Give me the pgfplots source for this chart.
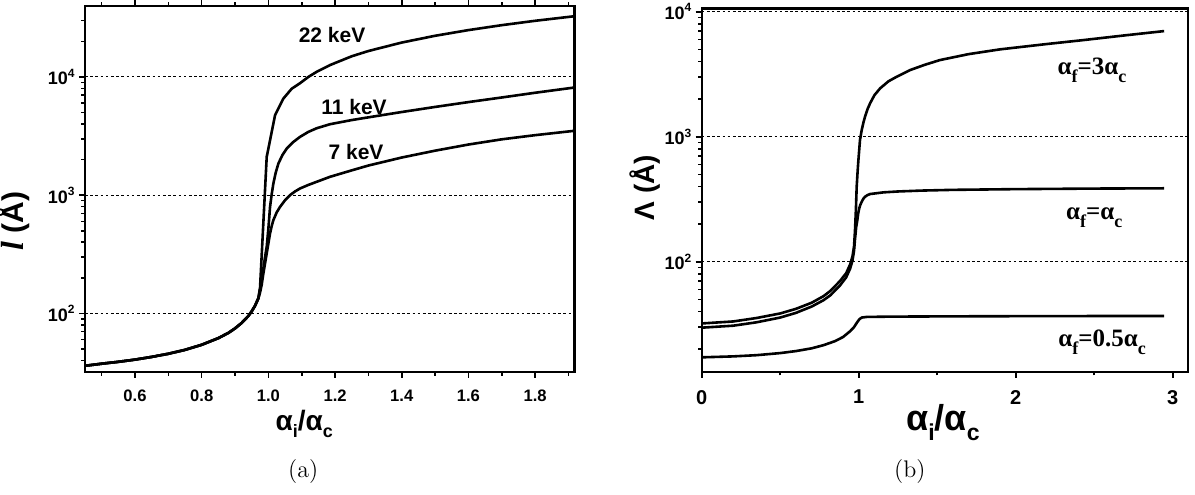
\documentclass[border=0pt]{standalone}
\usepackage{fontspec}
\usepackage{graphicx}
\usepackage{pgfplots}
\pgfplotsset{compat=1.18}
\newfontfamily\arial{Liberation Sans}
\newfontfamily\tnr{Liberation Serif}
\newcommand\sbs[1]{\raisebox{-0.28em}{\scalebox{0.64}{#1}}}
\newcommand\sbt[1]{\raisebox{-0.32em}{\scalebox{0.72}{#1}}}

\pgfplotstableread{
t v
0.45 36.0
0.50 37.5
0.55 38.9
0.60 40.6
0.65 42.8
0.70 45.5
0.75 49.1
0.80 54.2
0.85 61.7
0.88 68.3
0.90 74.6
0.92 83
0.94 95
0.95 104
0.96 116
0.97 134
0.975 165
0.995 2110
1.02 4740
1.045 6560
1.07 7950
1.095 8850
1.12 10000
1.145 11050
1.185 12600
1.25 14950
1.30 16560
1.40 19530
1.50 22280
1.60 24890
1.70 27400
1.80 29830
1.9175 32600
}\kevA

\pgfplotstableread{
t v
0.45 36.0
0.50 37.5
0.55 38.9
0.60 40.6
0.65 42.8
0.70 45.5
0.75 49.1
0.80 54.2
0.85 61.7
0.88 68.3
0.90 74.6
0.92 83
0.94 95
0.95 104
0.96 116
0.97 134
0.975 160
0.98 195
0.985 240
0.99 300
0.995 366
1.000 520
1.005 796
1.010 1020
1.015 1256
1.022 1550
1.030 1850
1.042 2180
1.055 2476
1.075 2818
1.095 3112
1.12 3428
1.145 3681
1.185 3981
1.25 4315
1.30 4550
1.40 5047
1.50 5572
1.60 6124
1.70 6699
1.80 7345
1.9175 8130
}\kevB

\pgfplotstableread{
t v
0.45 36.0
0.50 37.5
0.55 38.9
0.60 40.6
0.65 42.8
0.70 45.5
0.75 49.1
0.80 54.2
0.85 61.7
0.88 68.3
0.90 74.6
0.92 83
0.94 95
0.95 104
0.96 116
0.97 134
0.975 150
0.98 175
0.985 218
0.99 265
0.995 321
1.000 390
1.005 474
1.010 548
1.015 615
1.025 715
1.035 796
1.050 905
1.065 1000
1.080 1075
1.095 1138
1.12 1220
1.145 1297
1.185 1429
1.25 1620
1.30 1780
1.40 2080
1.50 2377
1.60 2679
1.70 2965
1.80 3215
1.9175 3500
}\kevC

\pgfplotstableread{
x v
0 32.1
0.2 33.3
0.35 35.5
0.5 38.6
0.6 42.0
0.7 47.0
0.775 53
0.82 58.5
0.88 70
0.92 81
0.945 95
0.96 110
0.97 132
0.976 175
0.982 260
0.987 398
0.993 530
0.998 651
1.008 940
1.019 1130
1.03 1300
1.04 1445
1.055 1650
1.072 1848
1.1 2150
1.136 2437
1.19 2780
1.242 3020
1.327 3415
1.42 3760
1.517 4105
1.7 4580
1.9 5000
2.2 5520
2.43 5930
2.7 6480
2.945 7000
}\afA

\pgfplotstableread{
x v
0 29.7
0.2 30.8
0.35 32.8
0.5 35.8
0.6 39.0
0.7 43.8
0.775 49.2
0.82 54
0.88 64.5
0.92 75
0.945 88
0.96 102
0.97 122
0.976 150
0.984 190
0.991 215
0.997 245
1.003 267
1.01 285
1.019 302
1.03 320
1.04 331
1.055 341
1.072 348
1.157 359
1.25 365
1.4 371
1.6 376
2.0 381
2.5 385
2.945 387
}\afB

\pgfplotstableread{
x v
0 17.2
0.2 17.5
0.35 17.9
0.5 18.6
0.6 19.3
0.7 20.3
0.775 21.5
0.85 23.2
0.9 25.0
0.945 27.8
0.97 30.0
0.99 32.8
1.005 34.8
1.02 35.8
1.05 36.2
1.2 36.4
1.6 36.6
2.0 36.7
2.5 36.8
2.945 36.8
}\afC

\pgfplotsset{
  mycurve/.style={black, line width=1.3pt, line join=round, no marks},
}

\begin{document}
\begin{tikzpicture}
\useasboundingbox (0,0) rectangle (597.5pt,247pt);

% ---------------- (a) ----------------
\begin{axis}[
  scale only axis,
  clip mode=individual,
  ymode=log,
  axis line style={line width=1.2pt},
  tick style={black, line width=0.8pt},
  major tick length=3pt,
  minor tick length=1.8pt,
  tick align=outside,
  ymajorgrids,
  major grid style={line width=0.5pt, black, dash pattern=on 1.3pt off 1.3pt},
  ytick={100,1000,10000},
  yticklabels={10\textsuperscript{2},10\textsuperscript{3},10\textsuperscript{4}},
  ytick pos=left,
  yticklabel style={font=\arial\bfseries\fontsize{9}{10}\selectfont, inner sep=1.5pt},
  at={(42.5pt,61pt)}, anchor=south west,
  width=244.65pt, height=183pt,
  xmin=0.45, xmax=1.9175, ymin=31.9, ymax=39800,
  xtick={0.6,0.8,1.0,1.2,1.4,1.6,1.8},
  xticklabels={0.6,0.8,1.0,1.2,1.4,1.6,1.8},
  minor xtick={0.5,0.7,0.9,1.1,1.3,1.5,1.7,1.9},
  minor ytick={40,50,60,70,80,90,200,300,400,500,600,700,800,900,2000,3000,4000,5000,6000,7000,8000,9000,20000,30000},
  xtick pos=both,
  xticklabel pos=bottom,
  xticklabel style={font=\arial\bfseries\fontsize{8.3}{9}\selectfont, inner sep=2.5pt, yshift=-3.5pt},
]
\addplot[mycurve] table[x=t,y=v] {\kevA};
\addplot[mycurve] table[x=t,y=v] {\kevB};
\addplot[mycurve] table[x=t,y=v] {\kevC};
\node[font=\arial\bfseries\fontsize{10.5}{12}\selectfont] at (axis cs:1.191,22550) {22 keV};
\node[font=\arial\bfseries\fontsize{10.5}{12}\selectfont] at (axis cs:1.257,5545) {11 keV};
\node[font=\arial\bfseries\fontsize{10.5}{12}\selectfont] at (axis cs:1.263,2312) {7 keV};
\node[rotate=90] at (axis description cs:-0.146,0.413)
  {{\tnr\bfseries\itshape\fontsize{16}{16}\selectfont l}{\arial\bfseries\fontsize{15}{16}\selectfont\ (Å)}};
\node[font=\arial\bfseries\fontsize{14}{15}\selectfont] at (axis description cs:0.448,-0.142)
  {α\sbs{i}/α\sbs{c}};
\node[font=\fontsize{12}{14}\selectfont] at (axis description cs:0.446,-0.272) {(a)};
\end{axis}

% ---------------- (b) ----------------
\begin{axis}[
  scale only axis,
  clip mode=individual,
  ymode=log,
  axis line style={line width=1.2pt},
  tick style={black, line width=0.8pt},
  major tick length=3pt,
  minor tick length=1.8pt,
  tick align=outside,
  ymajorgrids,
  major grid style={line width=0.5pt, black, dash pattern=on 1.3pt off 1.3pt},
  ytick={100,1000,10000},
  yticklabels={10\textsuperscript{2},10\textsuperscript{3},10\textsuperscript{4}},
  ytick pos=left,
  yticklabel style={font=\arial\bfseries\fontsize{9}{10}\selectfont, inner sep=1.5pt},
  at={(350.85pt,61.15pt)}, anchor=south west,
  width=243.15pt, height=181.7pt,
  xmin=0, xmax=3.097, ymin=13.2, ymax=10650,
  xtick={0,1,2,3},
  xticklabels={0,1,2,3},
  minor xtick={0.5,1.5,2.5},
  minor ytick={20,30,40,50,60,70,80,90,200,300,400,500,600,700,800,900,2000,3000,4000,5000,6000,7000,8000,9000},
  xtick pos=bottom,
  xticklabel style={font=\arial\bfseries\fontsize{10}{11}\selectfont, inner sep=2.5pt, yshift=-3.5pt},
]
\addplot[mycurve] table[x=x,y=v] {\afA};
\addplot[mycurve] table[x=x,y=v] {\afB};
\addplot[mycurve] table[x=x,y=v] {\afC};
\node[font=\tnr\bfseries\fontsize{12.5}{15}\selectfont] at (axis cs:2.486,3420) {α\sbt{f}=3α\sbt{c}};
\node[font=\tnr\bfseries\fontsize{12.5}{15}\selectfont] at (axis cs:2.50,224) {α\sbt{f}=α\sbt{c}};
\node[font=\tnr\bfseries\fontsize{12.5}{15}\selectfont] at (axis cs:2.55,22.8) {α\sbt{f}=0.5α\sbt{c}};
\node[rotate=90, font=\arial\bfseries\fontsize{14}{16}\selectfont] at (axis description cs:-0.1156,0.5066) {Λ (Å)};
\node[font=\arial\bfseries\fontsize{18}{20}\selectfont] at (axis description cs:0.496,-0.141)
  {α\sbs{i}/α\sbs{c}};
\node[font=\fontsize{12}{14}\selectfont] at (axis description cs:0.428,-0.276) {(b)};
\end{axis}
\end{tikzpicture}
\end{document}
